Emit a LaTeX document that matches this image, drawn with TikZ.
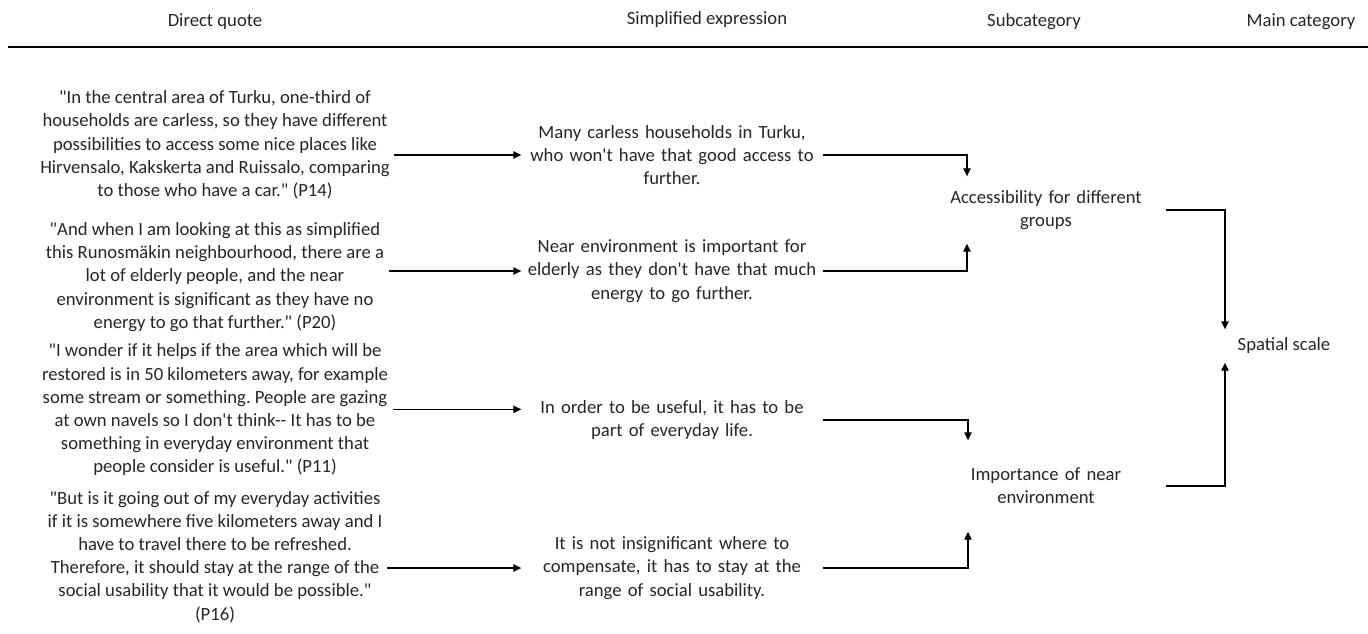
\documentclass[tikz,border=0pt]{standalone}
\usepackage{fontspec}
\setmainfont{Carlito}[Ligatures=TeXOff]
\usepackage{tikz}
\usetikzlibrary{arrows.meta}

\begin{document}
\frenchspacing
\begin{tikzpicture}[->,>={Triangle[length=6pt,width=5.5pt]},x=0.75pt,y=-0.75pt,
                    line width=1pt]
\tikzstyle{every node}=[text=black!85]
\tikzstyle{quote}=[align=center,inner sep=3pt]
\tikzstyle{simple}=[align=center,text width=225pt,inner sep=0pt]
\tikzstyle{subcat}=[align=center,text width=178.5pt,inner xsep=0pt]
\tikzset{font=\fontsize{14pt}{17.4pt}\selectfont}

        \useasboundingbox (0,0) rectangle (1368,633);

        % column heads
        \node (hq) at (215,22) {Direct quote};
        \node (hs) at (707,20) {Simplified expression};
        \node (hc) at (1034,22) {Subcategory};
        \node (hm) at (1301,22) {Main category};
        \draw[-,line width=1.3pt] (8,47) -- (1368,47);

        % direct quotes
        \node[quote] (q1) at (215,145) {"In the central area of Turku, one-third of\\households are carless, so they have different\\possibilities to access some nice places like\\Hirvensalo, Kakskerta and Ruissalo, comparing\\to those who have a car." (P14)};
        \node[quote] (q2) at (215,277) {"And when I am looking at this as simplified\\this Runosmäkin neighbourhood, there are a\\lot of elderly people, and the near\\environment is significant as they have no\\energy to go that further." (P20)};
        \node[quote] (q3) at (215,410) {"I wonder if it helps if the area which will be\\restored is in 50 kilometers away, for example\\some stream or something. People are gazing\\at own navels so I don't think-- It has to be\\something in everyday environment that\\people consider is useful." (P11)};
        \node[quote] (q4) at (215,557) {"But is it going out of my everyday activities\\if it is somewhere five kilometers away and I\\have to travel there to be refreshed.\\Therefore, it should stay at the range of the\\social usability that it would be possible."\\(P16)};

        % simplified expressions
        \node[simple] (s1) at (672,155) {Many carless households in Turku,\\who won't have that good access to\\further.};
        \node[simple] (s2) at (672,271) {Near environment is important for\\elderly as they don't have that much\\energy to go further.};
        \node[simple] (s3) at (672,420) {In order to be useful, it has to be\\part of everyday life.};
        \node[simple] (s4) at (672,568) {It is not insignificant where to\\compensate, it has to stay at the\\range of social usability.};

        % subcategories and main category
        \node[subcat,minimum height=49.5pt] (acc) at (1046,210) {Accessibility for different\\groups};
        \node[subcat,minimum height=67.5pt] (imp) at (1046,486) {Importance of near\\environment};
        \node[minimum height=24pt,inner ysep=0pt] (sp) at (1284,346) {Spatial scale};

        \path[->]
        (q1.east |- s1.west)  edge        (s1.west)
        (q2.east |- s2.west)  edge        (s2.west)
        ([yshift=8pt]q3.east |- s3.west)  edge  ([yshift=8pt]s3.west)
        (q4.east |- s4.west)  edge        (s4.west)
        ; %end path

        \draw (s1.east) -| ([xshift=-59.25pt]acc.north);
        \draw (s2.east) -| ([xshift=-59.25pt]acc.south);
        \draw (s3.east) -| ([xshift=-58.5pt]imp.north);
        \draw (s4.east) -| ([xshift=-58.5pt]imp.south);
        \draw (acc.east) -| ([xshift=-44.25pt]sp.north);
        \draw (imp.east) -| ([xshift=-44.25pt]sp.south);

\end{tikzpicture}
\end{document}
